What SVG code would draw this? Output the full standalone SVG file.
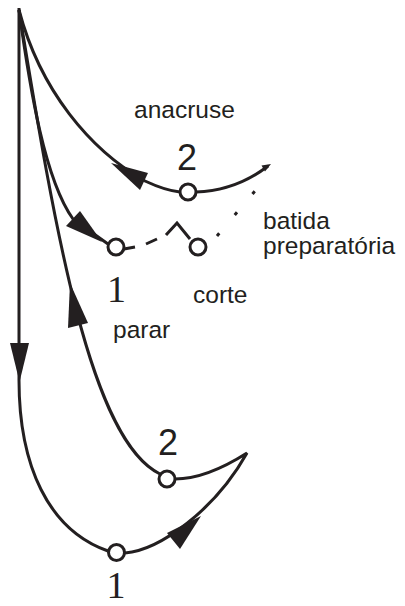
<svg xmlns="http://www.w3.org/2000/svg" width="405" height="606" viewBox="0 0 405 606">
<style>
.ln{fill:none;stroke:#231f20;stroke-width:3;stroke-linecap:butt;stroke-linejoin:miter}
.ah{fill:#231f20;stroke:none}
.pt{fill:#fff;stroke:#231f20;stroke-width:3}
.lb{font-family:"Liberation Sans",Arial,sans-serif;font-size:24.5px;fill:#231f20}
.dg{font-family:"Liberation Sans",Arial,sans-serif;font-size:36px;fill:#231f20;text-anchor:middle}
.d1{font-family:"Liberation Serif","Times New Roman",serif;font-size:38px;fill:#231f20;text-anchor:middle}
</style>
<rect width="405" height="606" fill="#fff"/>
<g id="connectors">
  <path class="ln" d="M19,8 L19,380 C19,465 48,530 108,551"/>
  <path class="ln" d="M125,553 C160,550 215,510 247,453 C225,467 200,479 175,479"/>
  <path class="ln" d="M19,10 C55,230 90,440 160,474"/>
  <path class="ln" d="M19,10 C30,90 45,180 73,219 L108,244"/>
  <path class="ln" d="M19,10 C40,90 90,150 145,181 C160,188 170,191 180,192"/>
  <path class="ln" d="M196,192 C225,191 250,180 268,166"/>
  <path class="ln" d="M124,249 L135,247 M146,244 L157,239 M166,235 L177,223 L190,239"/>
  <path class="ln" d="M217,236 L255,191" stroke-width="3.5" stroke-dasharray="3.5 24"/>
  <polygon class="ah" points="19.5,382 10,343 29,343"/>
  <polygon class="ah" points="70,283 68,328 88,323"/>
  <polygon class="ah" points="111,163 148,173 140,190"/>
  <polygon class="ah" points="102,242 80,211 66,226"/>
  <polygon class="ah" points="201,516 167,533 180,549"/>
  <polygon class="ah" points="271,164 265,171.6 261.5,165.6"/>
</g>
<g id="node-anacruse">
  <text class="lb" x="134" y="118">anacruse</text>
</g>
<g id="node-2-top">
  <circle class="pt" cx="188" cy="192" r="8"/>
  <text class="dg" x="187" y="170">2</text>
</g>
<g id="node-1-top">
  <circle class="pt" cx="116" cy="247" r="8"/>
  <text class="d1" x="116.5" y="302">1</text>
</g>
<g id="node-corte">
  <circle class="pt" cx="198" cy="247" r="8"/>
  <text class="lb" x="193" y="303">corte</text>
</g>
<g id="node-parar">
  <text class="lb" x="113" y="338">parar</text>
</g>
<g id="node-batida">
  <text class="lb" x="263" y="229">batida</text>
  <text class="lb" x="263" y="254">preparatória</text>
</g>
<g id="node-2-bottom">
  <circle class="pt" cx="167" cy="479" r="8"/>
  <text class="dg" x="168" y="455">2</text>
</g>
<g id="node-1-bottom">
  <circle class="pt" cx="116.5" cy="552.5" r="8"/>
  <text class="d1" x="116" y="598" font-size="36">1</text>
</g>
</svg>
